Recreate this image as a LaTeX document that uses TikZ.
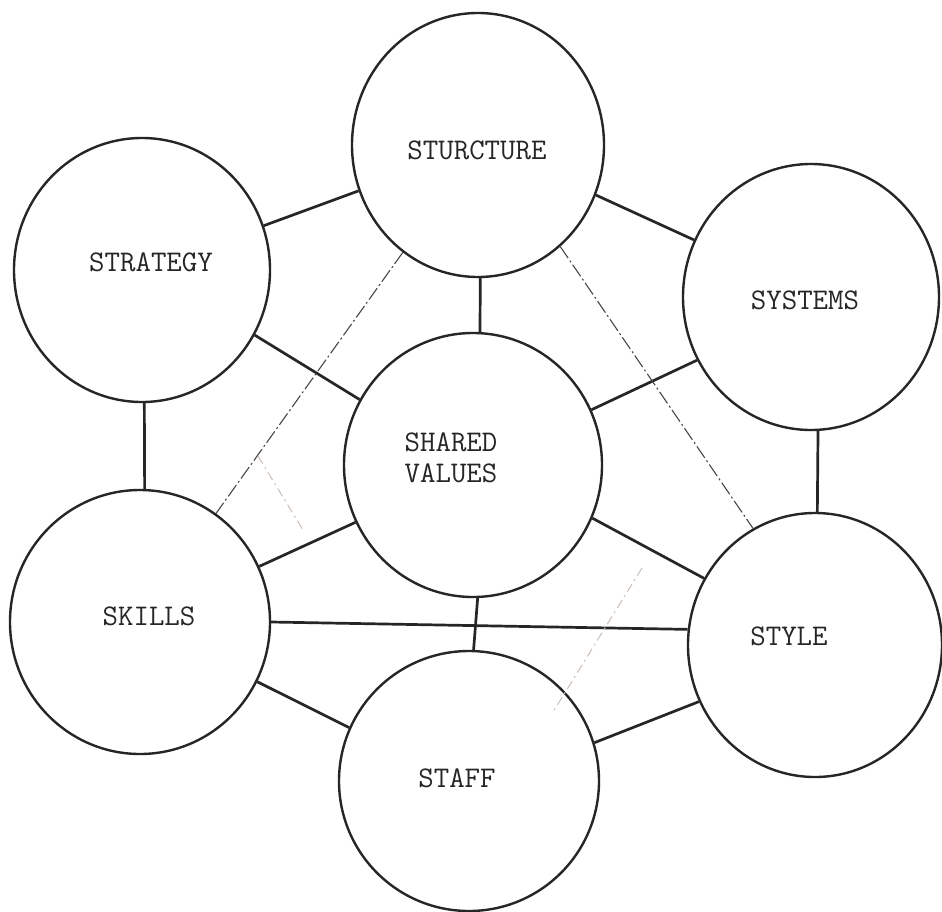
\documentclass[tikz,border=0pt]{standalone}
\usepackage{fontspec}
\usetikzlibrary{shapes.geometric,calc}
\definecolor{ink}{HTML}{262626}
\definecolor{faintc}{HTML}{CBBFB8}
\begin{document}
\begin{tikzpicture}[x=1pt,y=-1pt,
  ring/.style={draw=ink, line width=2.4pt, ellipse, inner sep=0pt},
  lbl/.style={text=ink, font=\ttfamily\fontsize{30}{31}\selectfont, align=center, inner sep=0pt},
  link/.style={draw=ink, line width=2.7pt},
  thinlink/.style={draw=ink!85, line width=1.1pt, dash pattern=on 14pt off 3pt on 2pt off 3pt},
  faintlink/.style={draw=faintc, line width=1pt, dash pattern=on 9pt off 4pt on 2pt off 4pt}]
\useasboundingbox[fill=white] (0,0) rectangle (942,911);

% circles
\node[ring, minimum width=252pt, minimum height=264pt] (stu) at (478,145) {};
\node[ring, minimum width=256pt, minimum height=264pt] (str) at (142,270) {};
\node[ring, minimum width=256pt, minimum height=266pt] (sys) at (811,297) {};
\node[ring, minimum width=258pt, minimum height=264pt] (sv)  at (473,465) {};
\node[ring, minimum width=260pt, minimum height=264pt] (ski) at (140,622) {};
\node[ring, minimum width=254pt, minimum height=264pt] (sty) at (815,645) {};
\node[ring, minimum width=260pt, minimum height=260pt] (sta) at (469,781) {};

% labels
\node[lbl] (tstu) at (477,150) {STURCTURE};
\node[lbl] (tstr) at (151,262) {STRATEGY};
\node[lbl] (tsys) at (805,300) {SYSTEMS};
\node[lbl] (tsv)  at (451,458) {SHARED\\VALUES};
\node[lbl] (tski) at (149,616) {SKILLS};
\node[lbl] (tsty) at (789,636) {STYLE};
\node[lbl] (tsta) at (457,778) {STAFF};

% solid connectors
\draw[link] (str.20) -- (stu.201);
\draw[link] (stu.-23) -- (sys.154);
\draw[link] (stu.-89) -- (sv.87);
\draw[link] (str.-30) -- (sv.150);
\draw[link] (sys.209) -- (sv.25);
\draw[link] (str.-89) -- (ski.88);
\draw[link] (sys.-87) -- (sty.89);
\draw[link] (ski.25) -- (sv.206);
\draw[link] (sv.-24) -- (sty.149);
\draw[link] (ski.0) -- (sty.173);
\draw[link] (sv.-88) -- (sta.88);
\draw[link] (ski.-27) -- (sta.156);
\draw[link] (sty.206) -- (sta.17);

% thin dash-dot connectors
\draw[thinlink] (stu.235) -- (ski.55);
\draw[thinlink] (stu.-51) -- (sty.118);

% faint remnants
\coordinate (fa1) at (258,456);
\coordinate (fa2) at (303,530);
\coordinate (fb1) at (642,568);
\coordinate (fb2) at (553,712);
\draw[faintlink] (fa1) -- (fa2);
\draw[faintlink] (fb1) -- (fb2);
\end{tikzpicture}
\end{document}
